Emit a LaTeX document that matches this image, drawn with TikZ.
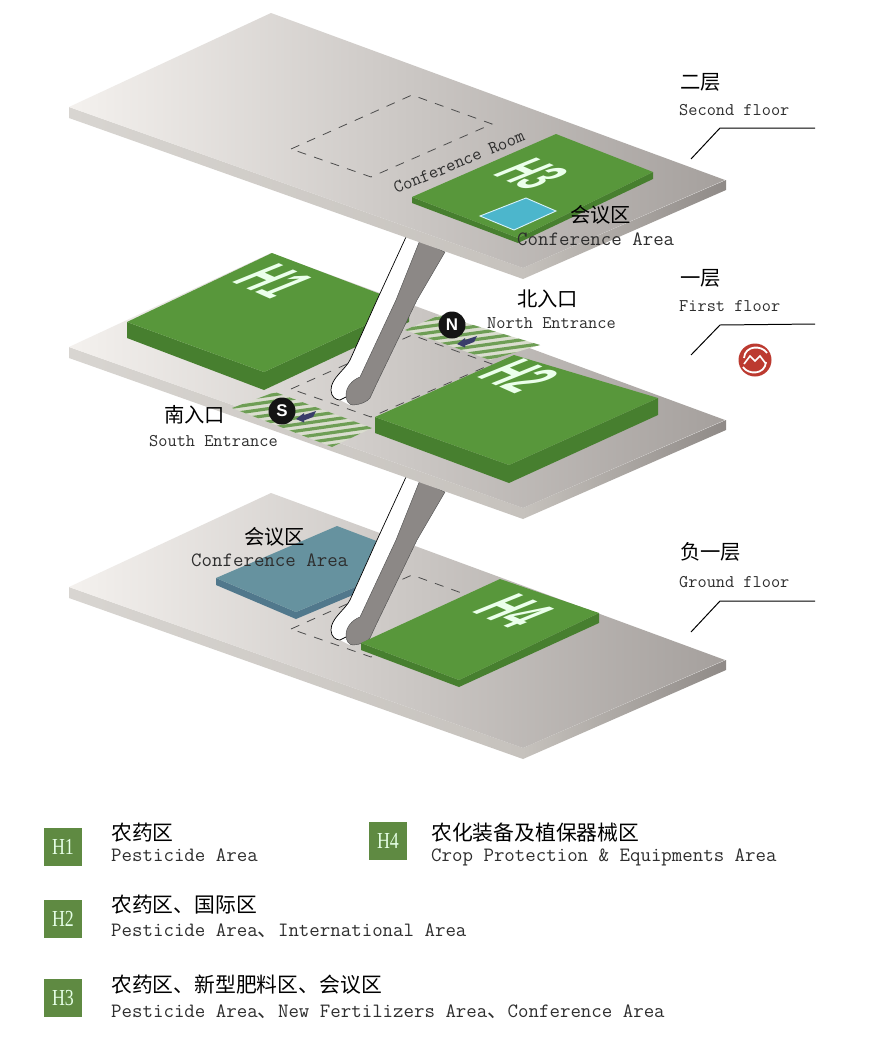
\documentclass[tikz,border=0pt]{standalone}
\usepackage{fontspec}
\setmainfont{Liberation Sans}
\newfontfamily\cjk{Noto Sans CJK SC}
\newfontfamily\lser{Liberation Serif}
\definecolor{gA}{HTML}{F4F1EE}
\definecolor{gB}{HTML}{D3CFCA}
\definecolor{gC}{HTML}{A5A09D}
\definecolor{sA}{HTML}{D8D5D1}
\definecolor{sB}{HTML}{C6C2BD}
\definecolor{sC}{HTML}{8F8A87}
\definecolor{grn}{HTML}{58973B}
\definecolor{grnd}{HTML}{477F2F}
\definecolor{grnl}{HTML}{5F8A42}
\definecolor{blu}{HTML}{66929F}
\definecolor{blud}{HTML}{51788C}
\definecolor{cyn}{HTML}{4CB6CC}
\definecolor{ramp}{HTML}{8C8886}
\definecolor{arrowb}{HTML}{393D6A}
\definecolor{hatch}{HTML}{6E9E55}
\definecolor{hatchbg}{HTML}{DADDCF}
\definecolor{lred}{HTML}{BC3A30}
\definecolor{ink}{HTML}{2E2E2E}
\tikzset{
  zh/.style={inner sep=0pt,anchor=west,text=black,font=\cjk\fontsize{20.4}{24}\selectfont},
  zhL/.style={inner sep=0pt,anchor=west,text=black,font=\cjk\fontsize{20.9}{24}\selectfont},
  enS/.style={inner sep=0pt,anchor=base west,text=ink,font=\ttfamily\fontsize{17.9}{20}\selectfont},
  enL/.style={inner sep=0pt,anchor=base west,text=ink,font=\ttfamily\fontsize{20.4}{24}\selectfont},
  dashline/.style={draw=black!70,line width=.8pt,dash pattern=on 9pt off 8.5pt},
  leader/.style={draw=black,line width=1pt},
  legbox/.style={fill=grnl,minimum size=38bp,inner sep=0pt,text=white!90!green,font=\lser\fontsize{23}{24}\selectfont},
  isolabel/.style={transform shape,inner sep=0pt,text=white!92!green,font=\bfseries\fontsize{10}{12}\selectfont},
  badge/.style={circle,fill=black!92,minimum size=27bp,inner sep=0pt,text=white,font=\bfseries\fontsize{17}{20}\selectfont}
}
\newcommand{\slabat}[1]{%
  \begin{scope}[yshift=#1]
    \shade[left color=sA,middle color=sB,right color=sB] (69,107) -- (523,268) -- (523,279) -- (69,118) -- cycle;
    \shade[left color=sB,right color=sC] (523,268) -- (726,180) -- (726,190) -- (523,279) -- cycle;
    \shade[left color=gA,middle color=gB,right color=gC] (271,13) -- (725,180) -- (523,268) -- (69,107) -- cycle;
  \end{scope}}
\newcommand{\rampat}[1]{%
  \begin{scope}[yshift=#1]
    \fill[white] (406,237) -- (377,300) -- (350,360) .. controls (345,370) and (331,378) .. (331,390) .. controls (331,397) and (336,400) .. (340,400) -- (350,405) -- (396,300) -- (420,240) -- cycle;
    \draw[black,line width=.7pt] (406,237) -- (377,300) -- (350,360) .. controls (345,370) and (331,378) .. (331,390) .. controls (331,397) and (336,400) .. (340,400) -- (346,397);
    \fill[ramp,draw=black!70,line width=.4pt] (420,240) -- (396,300) -- (360,377) .. controls (352,380) and (346,387) .. (346,395) .. controls (346,401) and (349,405) .. (353,405) .. controls (359,405) and (367,402) .. (370,398) -- (376,385) -- (417,300) -- (445,252) -- cycle;
  \end{scope}}
\newcommand{\dashdiamond}[1]{%
  \begin{scope}[yshift=#1]
    \draw[dashline] (291,149) -- (412,95) -- (492,124) -- (371,177) -- cycle;
  \end{scope}}
\newcommand{\fatarrow}[2]{%
  \fill[arrowb,shift={(#1,#2)}] (0,0) -- (8,-6) -- (8,-4) -- (20,-8) -- (17,-2) -- (8,1.5) -- (8,3.5) -- cycle;}
\begin{document}
\begin{tikzpicture}[x=1bp,y=-1bp]
\useasboundingbox (0,0) rectangle (891,1042);
\fill[white] (0,0) rectangle (891,1042);

% ---------- ground floor
\slabat{-480bp}
\dashdiamond{-480bp}
\fill[blud] (216,578) -- (296,612) -- (360,585) -- (360,592) -- (296,619) -- (216,585) -- cycle;
\fill[blu] (337,526) -- (395,548) -- (360,585) -- (296,612) -- (216,578) -- cycle;
\rampat{-240bp}
\fill[grnd] (361,643) -- (459,680) -- (599,613) -- (599,623) -- (459,687) -- (361,650) -- cycle;
\fill[grn] (500,579) -- (599,613) -- (459,680) -- (361,643) -- cycle;

% ---------- first floor
\slabat{-240bp}
\begin{scope}
  \clip (232,408) -- (275,392) -- (372,428) -- (332,447) -- cycle;
  \fill[hatchbg] (225,385) rectangle (380,450);
  \foreach \i in {0,...,13}
    \draw[hatch,line width=3.2pt] (225,395+6.6*\i) -- (380,373+6.6*\i);
\end{scope}
\begin{scope}
  \clip (405,330) -- (440,315) -- (540,345) -- (490,360) -- cycle;
  \fill[hatchbg] (400,310) rectangle (545,365);
  \foreach \i in {0,...,13}
    \draw[hatch,line width=3.2pt] (400,317+6.6*\i) -- (545,297+6.6*\i);
\end{scope}
\dashdiamond{-240bp}
\fill[grnd] (127,322) -- (264,372) -- (409,305) -- (409,322) -- (264,390) -- (127,338) -- cycle;
\fill[grn] (272,253) -- (409,305) -- (264,372) -- (127,322) -- cycle;
\fill[grnd] (375,417) -- (509,465) -- (658,398) -- (658,415) -- (509,483) -- (375,433) -- cycle;
\fill[grn] (514,355) -- (658,398) -- (509,465) -- (375,417) -- cycle;
\rampat{0bp}
\fatarrow{296}{419}
\fatarrow{457}{344}
\node[badge] (sbadge) at (282,411) {S};
\node[badge] (nbadge) at (452,325) {N};

% ---------- second floor
\slabat{0bp}
\dashdiamond{0bp}
\fill[grnd] (412,197) -- (518,238) -- (653,172) -- (653,179) -- (518,243) -- (412,203) -- cycle;
\fill[grn] (556,134) -- (653,172) -- (518,238) -- (412,197) -- cycle;
\fill[cyn,draw=white!85!cyan,line width=.9pt] (526,198) -- (556,211) -- (514,230) -- (480,216) -- cycle;

% ---------- labels on the blocks
\begin{scope}[shift={(274,281)},cm={3.2,-1.43,6.8,2.75,(0,0)}]\node[isolabel] (hone) {H1};\end{scope}
\begin{scope}[shift={(520,376)},cm={3.2,-1.43,6.8,2.75,(0,0)}]\node[isolabel] (htwo) {H2};\end{scope}
\begin{scope}[shift={(532,174)},cm={3,-1.33,6.3,2.55,(0,0)}]\node[isolabel] (hthree) {H3};\end{scope}
\begin{scope}[shift={(514,611)},cm={3.2,-1.43,6.8,2.75,(0,0)}]\node[isolabel] (hfour) {H4};\end{scope}

% ---------- leaders
\draw[leader] (691,159) -- (720,128) -- (815,128);
\draw[leader] (691,355) -- (720,325) -- (815,324);
\draw[leader] (691,632) -- (720,601) -- (815,601);

% ---------- logo
\fill[lred] (755,360) circle (16.5);
\draw[white,line width=1.8pt] (744,358) .. controls (745,345) and (762,345) .. (767,353);
\draw[white,line width=1.8pt] (766,362) .. controls (765,375) and (748,375) .. (743,367);
\draw[white,line width=1.6pt] (744,364) -- (750,356) -- (755,361) -- (760,356) -- (766,364);

% ---------- floor and area labels
\node[zh] (lsec) at (680,82) {二层};
\node[enS] (lsece) at (679,115) {Second floor};
\node[zh] (lfir) at (680,278) {一层};
\node[enS] (lfire) at (679,311) {First floor};
\node[zh] (lgro) at (680,552) {负一层};
\node[enS] (lgroe) at (679,587) {Ground floor};
\node[zh] (lcon) at (570,215) {会议区};
\node[enL] (lcone) at (517,245) {Conference Area};
\node[zh] (lnor) at (517,299) {北入口};
\node[enS] (lnore) at (487,328) {North Entrance};
\node[zh] (lsou) at (164,415) {南入口};
\node[enS] (lsoue) at (149,446) {South Entrance};
\node[zh] (lcon2) at (244,537) {会议区};
\node[enL] (lcon2e) at (191,566) {Conference Area};
\node[inner sep=0pt,text=ink,rotate=22.5,font=\ttfamily\fontsize{18.2}{20}\selectfont] (lroom) at (459,162) {Conference Room};

% ---------- legend
\node[legbox] (kone) at (63,847) {\scalebox{.78}[1]{H1}};
\node[legbox] (ktwo) at (63,919) {\scalebox{.78}[1]{H2}};
\node[legbox] (kthree) at (63,998) {\scalebox{.78}[1]{H3}};
\node[legbox] (kfour) at (388,841) {\scalebox{.78}[1]{H4}};
\node[zhL] (tone) at (111,833) {农药区};
\node[enL] (toneb) at (111,861) {Pesticide Area};
\node[zhL] (ttwo) at (111,905) {农药区、国际区};
\node[enL] (ttwob) at (111,936) {Pesticide Area{\cjk 、}International Area};
\node[zhL] (tthree) at (111,985) {农药区、新型肥料区、会议区};
\node[enL] (tthreeb) at (111,1017) {Pesticide Area{\cjk 、}New Fertilizers Area{\cjk 、}Conference Area};
\node[zhL] (tfour) at (431,833) {农化装备及植保器械区};
\node[enL] (tfourb) at (431,861) {Crop Protection \& Equipments Area};
\end{tikzpicture}
\end{document}
